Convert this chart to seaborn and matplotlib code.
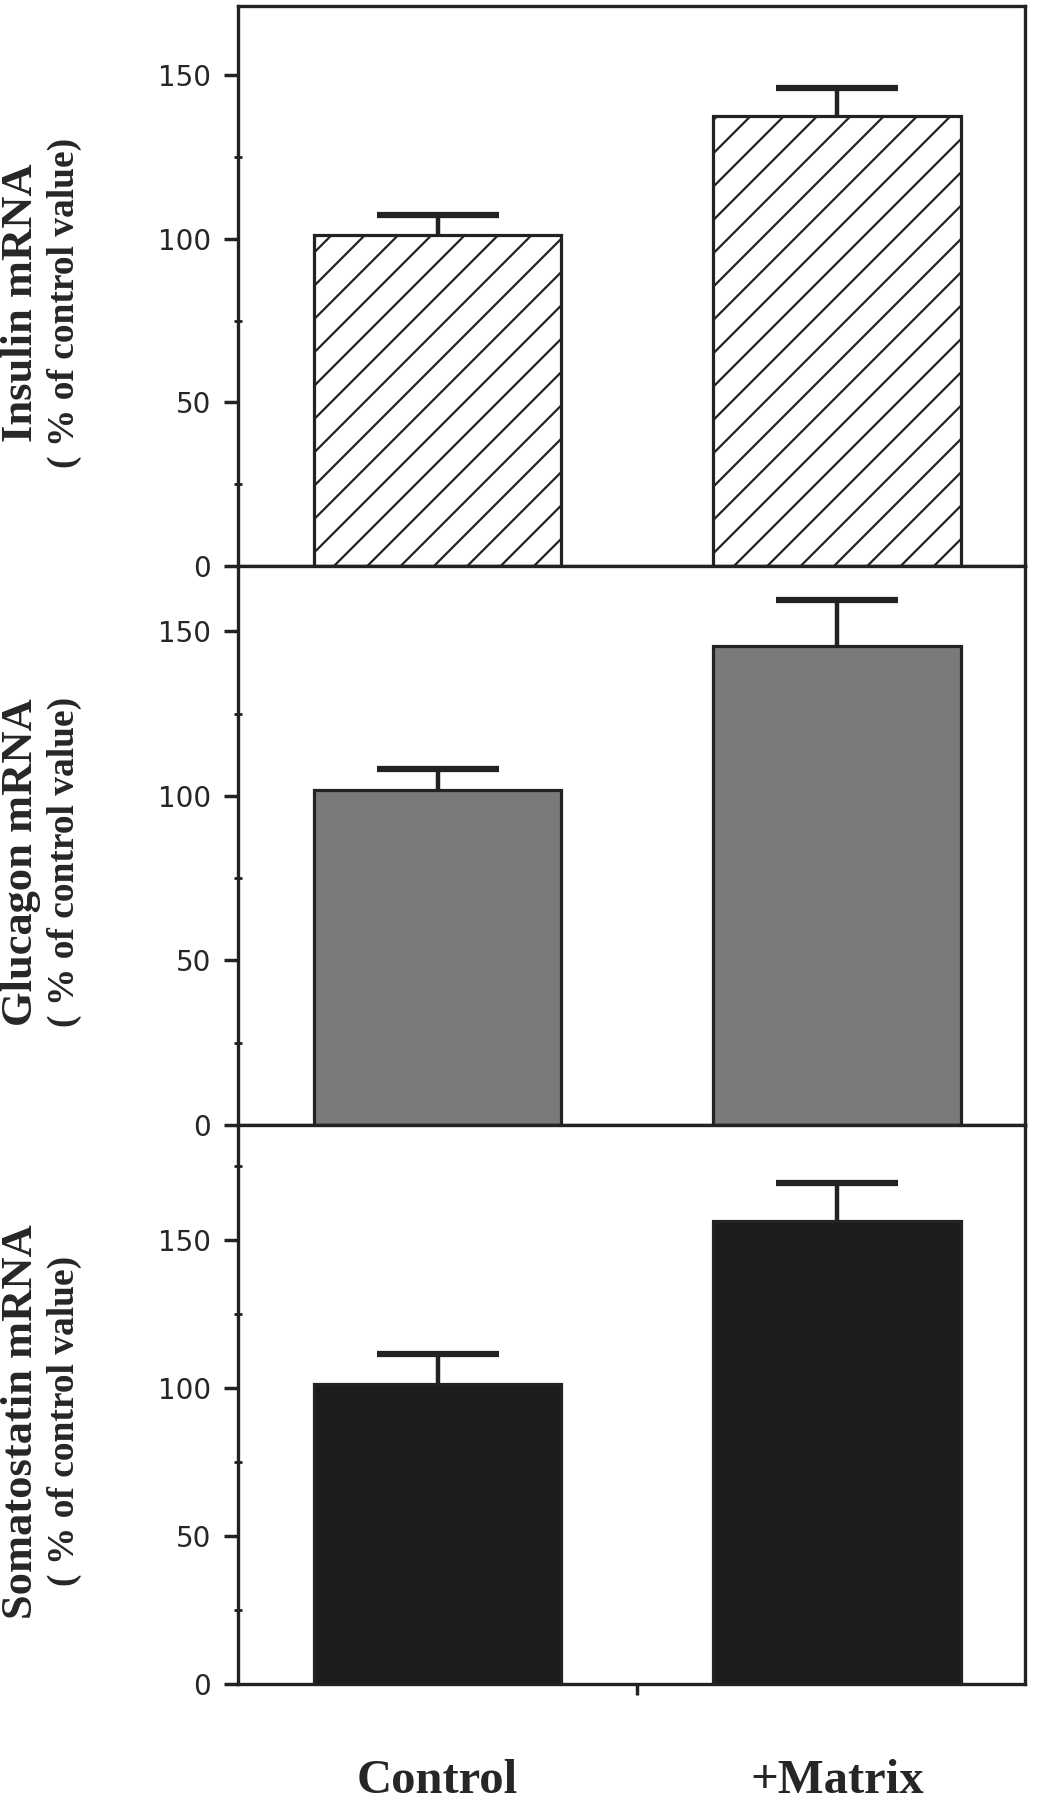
import numpy as np
import pandas as pd
import matplotlib
matplotlib.use("Agg")
import matplotlib.pyplot as plt
import matplotlib.transforms as mtransforms
from matplotlib.ticker import MultipleLocator
import seaborn as sns

# data (% of control value, mean and upper SEM)
groups = ["Control", "+Matrix"]
insulin_mean = [101.2, 137.5]
insulin_err = [6.0, 8.5]
glucagon_mean = [101.7, 145.6]
glucagon_err = [6.5, 14.0]
somato_mean = [101.5, 156.3]
somato_err = [10.0, 13.0]

panel_names = ["Insulin mRNA", "Glucagon mRNA", "Somatostatin mRNA"]
panel_means = [insulin_mean, glucagon_mean, somato_mean]
panel_errs = [insulin_err, glucagon_err, somato_err]
panel_ymax = [171.0, 170.0, 189.0]

sns.set_style("white")
plt.rcParams["font.family"] = ["DejaVu Sans"]
plt.rcParams["hatch.linewidth"] = 1.6

fig = plt.figure(figsize=(10.42, 18), dpi=100)

ax_left, ax_width, ax_height = 0.228, 0.756, 0.3108
bottoms = [0.6856, 0.3750, 0.0644]
bar_styles = [
    dict(color="white", hatch="/"),
    dict(color="#7a7a7a", hatch=None),
    dict(color="#1c1c1c", hatch=None),
]
serif = ["Liberation Serif", "DejaVu Serif"]
axes = []
for i in range(3):
    ax = fig.add_axes([ax_left, bottoms[i], ax_width, ax_height])
    axes.append(ax)
    df = pd.DataFrame({"group": groups, "value": panel_means[i]})
    st = bar_styles[i]
    sns.barplot(data=df, x="group", y="value", ax=ax, width=0.62, errorbar=None,
                color=st["color"], saturation=1, edgecolor="#222222", linewidth=2.3,
                hatch=st["hatch"])

    # one-sided error bars (upper only), hide the cap at the bar top
    x_pos = np.arange(len(groups))
    _, caps, _ = ax.errorbar(x_pos, panel_means[i],
                             yerr=[np.zeros(len(groups)), panel_errs[i]],
                             fmt="none", ecolor="#222222", elinewidth=3.2,
                             capsize=44, capthick=4.5, zorder=1)
    for cap in caps:
        if np.allclose(cap.get_ydata(), panel_means[i]):
            cap.set_visible(False)

    ax.set_xlim(-0.5, 1.47)
    ax.set_ylim(0, panel_ymax[i])
    ax.set_yticks([0, 50, 100, 150])
    ax.yaxis.set_minor_locator(MultipleLocator(25))
    ax.set_xticks([0.5])
    ax.set_xticklabels([""])
    ax.set_xlabel("")
    ax.set_ylabel("")
    ax.tick_params(axis="y", which="major", direction="out", length=10, width=2.5,
                   labelsize=20, pad=9, color="#222222", left=True)
    ax.tick_params(axis="y", which="minor", direction="inout", length=6, width=2,
                   color="#222222", left=True)
    ax.tick_params(axis="x", direction="out", length=8, width=2.5, color="#222222",
                   bottom=True)
    for sp in ax.spines.values():
        sp.set_visible(True)
        sp.set_linewidth(2.4)
        sp.set_color("#222222")
    ax.set_facecolor("white")

    ax.text(-0.275, 0.47, panel_names[i], transform=ax.transAxes, rotation=90,
            ha="center", va="center", fontsize=32, fontweight="bold", family=serif)
    ax.text(-0.22, 0.47, "( % of control value)", transform=ax.transAxes, rotation=90,
            ha="center", va="center", fontsize=27, fontweight="bold", family=serif)

# group names below the bottom panel
trans = mtransforms.blended_transform_factory(axes[2].transData, fig.transFigure)
for k, g in enumerate(groups):
    axes[2].text(k, 0.004, g, transform=trans, ha="center", va="baseline",
                 fontsize=35, fontweight="bold", family=serif)

fig.savefig("out.png", dpi=100, facecolor="white")
